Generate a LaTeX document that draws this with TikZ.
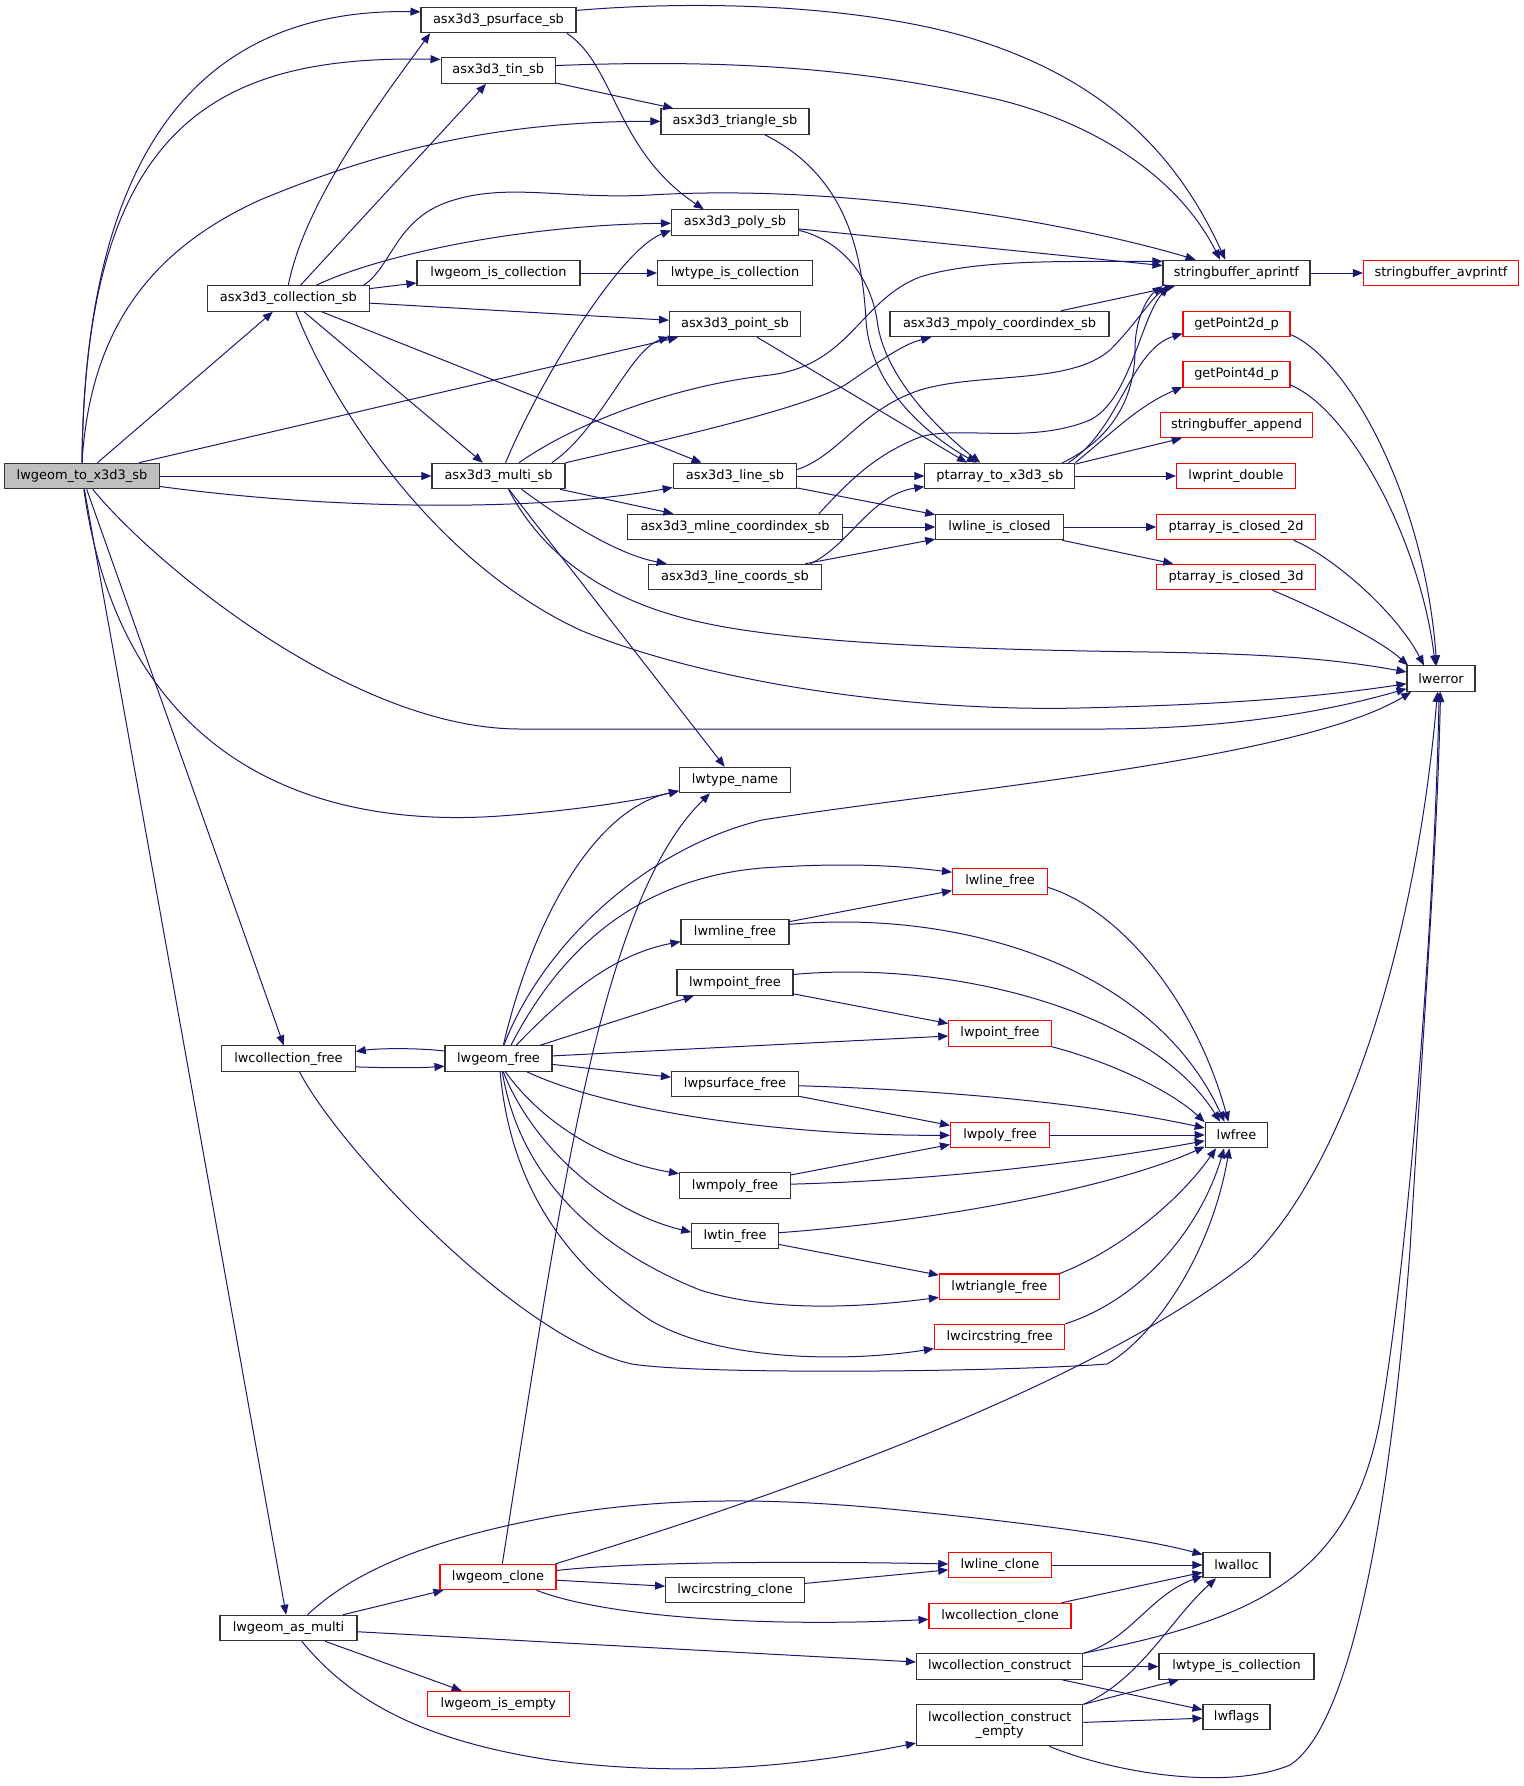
\documentclass[tikz,border=0pt]{standalone}
\usepackage{fontspec}
\setmainfont{DejaVu Sans}
\usetikzlibrary{arrows.meta}
\definecolor{edgec}{HTML}{191970}
\definecolor{boxc}{HTML}{333333}
\definecolor{redc}{HTML}{FF0000}
\definecolor{fillA}{HTML}{BFBFBF}
\begin{document}
\begin{tikzpicture}[x=0.75pt,y=-0.75pt,
 fn/.style={draw=boxc, line width=0.8pt, fill=white, inner sep=0pt, minimum height=25.5*0.75pt, font=\fontsize{9.7}{10.1}\selectfont, text=black},
 redfn/.style={fn, draw=redc},
 bw/.style={minimum width=#1*0.75pt},
 e/.style={draw=edgec, line width=0.75pt, -{Triangle[length=7.5pt,width=6pt]}}]
\useasboundingbox[fill=white] (0,0) rectangle (1524,1786);
% nodes
\node[fn,bw=155,fill=fillA] (A) at (82,476) {lwgeom\_to\_x3d3\_sb};
\node[fn,bw=155] (psurf) at (498.5,20) {asx3d3\_psurface\_sb};
\node[fn,bw=114.5] (tin) at (498.3,70.6) {asx3d3\_tin\_sb};
\node[fn,bw=148] (tri) at (735,121.5) {asx3d3\_triangle\_sb};
\node[fn,bw=127] (poly) at (735,222.5) {asx3d3\_poly\_sb};
\node[fn,bw=163] (isc) at (498.5,273) {lwgeom\_is\_collection};
\node[fn,bw=155] (tic1) at (735,273) {lwtype\_is\_collection};
\node[fn,bw=161.5] (C) at (288.3,298.5) {asx3d3\_collection\_sb};
\node[fn,bw=131] (pt) at (735,324) {asx3d3\_point\_sb};
\node[fn,bw=133] (M) at (498.5,476) {asx3d3\_multi\_sb};
\node[fn,bw=123.5] (L) at (735,476) {asx3d3\_line\_sb};
\node[fn,bw=214.7] (mlc) at (735,527) {asx3d3\_mline\_coordindex\_sb};
\node[fn,bw=172.5] (lc) at (735,577) {asx3d3\_line\_coords\_sb};
\node[fn,bw=147] (apf) at (1236.5,273) {stringbuffer\_aprintf};
\node[redfn,bw=155] (avp) at (1441,273) {stringbuffer\_avprintf};
\node[fn,bw=219] (mpc) at (999.5,324) {asx3d3\_mpoly\_coordindex\_sb};
\node[redfn,bw=107] (gp2) at (1236.5,324) {getPoint2d\_p};
\node[redfn,bw=107] (gp4) at (1236.5,374.5) {getPoint4d\_p};
\node[redfn,bw=152] (sba) at (1236.5,425) {stringbuffer\_append};
\node[fn,bw=150] (P) at (999.9,476) {ptarray\_to\_x3d3\_sb};
\node[redfn,bw=119] (lpd) at (1236,476) {lwprint\_double};
\node[fn,bw=127.5] (lic) at (999.5,527) {lwline\_is\_closed};
\node[redfn,bw=158.5] (pc2) at (1236,527) {ptarray\_is\_closed\_2d};
\node[redfn,bw=158.5] (pc3) at (1236,577) {ptarray\_is\_closed\_3d};
\node[fn,bw=68] (err) at (1441,678.7) {lwerror};
\node[fn,bw=111] (tn) at (735,780) {lwtype\_name};
\node[redfn,bw=95] (lf) at (1000,881.5) {lwline\_free};
\node[fn,bw=108] (mlf) at (735,932) {lwmline\_free};
\node[fn,bw=116] (mpf) at (735,982.7) {lwmpoint\_free};
\node[fn,bw=133.6] (cf) at (288.4,1058.6) {lwcollection\_free};
\node[fn,bw=107] (G) at (498.5,1058.6) {lwgeom\_free};
\node[redfn,bw=102.5] (pf) at (1000,1033.4) {lwpoint\_free};
\node[fn,bw=127] (psf) at (735,1084) {lwpsurface\_free};
\node[redfn,bw=99] (plf) at (1000,1135) {lwpoly\_free};
\node[fn,bw=62.5] (free) at (1236.5,1135) {lwfree};
\node[fn,bw=111] (mpl) at (735,1185.6) {lwmpoly\_free};
\node[fn,bw=86.5] (tinf) at (735,1236) {lwtin\_free};
\node[redfn,bw=120] (trf) at (999.4,1286.7) {lwtriangle\_free};
\node[redfn,bw=130.5] (csf) at (999.7,1337) {lwcircstring\_free};
\node[fn,bw=67] (alloc) at (1236.5,1565) {lwalloc};
\node[redfn,bw=116] (gc) at (498,1577) {lwgeom\_clone};
\node[redfn,bw=102.5] (lcl) at (1000,1565) {lwline\_clone};
\node[fn,bw=139] (csc) at (735,1590) {lwcircstring\_clone};
\node[redfn,bw=142] (ccl) at (1000,1616) {lwcollection\_clone};
\node[fn,bw=137] (am) at (288.5,1628) {lwgeom\_as\_multi};
\node[fn,bw=166.5] (cc) at (999.7,1666.5) {lwcollection\_construct};
\node[fn,bw=155] (tic2) at (1236.5,1666.5) {lwtype\_is\_collection};
\node[fn,bw=67] (flags) at (1236.5,1717) {lwflags};
\node[fn,bw=166.5,minimum height=41*0.75pt,align=center] (cce) at (999.7,1725.3) {lwcollection\_construct\\\_empty};
\node[redfn,bw=141.5] (empty) at (498.3,1704) {lwgeom\_is\_empty};
% edges from A
\draw[e] (A.north) .. controls (85,150) and (200,8) .. (psurf.174);
\draw[e] (A.north) .. controls (85,120) and (220,55) .. (tin.169.5);
\draw[e] (A.north) .. controls (90,330) and (150,250) .. (260,200) .. controls (380,150) and (500,121) .. (tri);
\draw[e] (A) -- (C);
\draw[e] (A) -- (pt);
\draw[e] (A) -- (M);
\draw[e] (A) .. controls (350,512) and (550,510) .. (L);
\draw[e] (A) .. controls (150,560) and (350,729) .. (520,729) -- (1100,729) .. controls (1250,729) and (1350,705) .. (err);
\draw[e] (A) .. controls (120,750) and (300,830) .. (500,816) .. controls (580,810) and (640,800) .. (tn.191);
\draw[e] (A) -- (cf);
\draw[e] (A) -- (am);
% C
\draw[e] (C.north) .. controls (305,200) and (385,95) .. (psurf.191);
\draw[e] (C) -- (tin);
\draw[e] (C) .. controls (380,255) and (520,225) .. (poly);
\draw[e] (C.10.3) .. controls (390,268) and (395,225) .. (440,205) .. controls (500,180) and (560,200) .. (650,195) .. controls (850,183) and (1080,225) .. (apf.162);
\draw[e] (C) -- (isc);
\draw[e] (C) -- (pt);
\draw[e] (C) -- (L);
\draw[e] (C) -- (M);
\draw[e] (C.-60) .. controls (330,400) and (430,560) .. (580,630) .. controls (700,680) and (900,712) .. (1080,708) .. controls (1250,704) and (1330,695) .. (err);
% psurface, tin, triangle, poly
\draw[e] (psurf.7) .. controls (700,0) and (850,5) .. (960,35) .. controls (1100,75) and (1175,150) .. (apf.130);
\draw[e] (psurf.-11.7) .. controls (615,65) and (615,150) .. (poly.157);
\draw[e] (tin.5.6) .. controls (750,58) and (880,72) .. (1000,100) .. controls (1100,125) and (1180,180) .. (apf.141);
\draw[e] (tin) -- (tri);
\draw[e] (tri.-24.8) .. controls (845,175) and (862,250) .. (866,320) .. controls (870,390) and (935,440) .. (P.150);
\draw[e] (poly) -- (apf);
\draw[e] (poly.-7.6) .. controls (840,240) and (870,275) .. (877,320) .. controls (884,380) and (945,435) .. (P.146);
\draw[e] (isc) -- (tic1);
\draw[e] (pt) -- (P.158.7);
% M
\draw[e] (M.62.5) .. controls (540,380) and (620,250) .. (poly.187);
\draw[e] (M.14.5) .. controls (600,430) and (630,350) .. (pt.191);
\draw[e] (M.33.3) .. controls (580,420) and (680,385) .. (770,375) .. controls (850,365) and (860,300) .. (920,277) .. controls (980,258) and (1080,262) .. (apf.171.5);
\draw[e] (M.north east) .. controls (660,441) and (800,410) .. (845,385) .. controls (875,365) and (900,345) .. (mpc.191.3);
\draw[e] (M) -- (mlc);
\draw[e] (M.-30.2) .. controls (570,525) and (620,555) .. (lc.169.4);
\draw[e] (M) -- (tn);
\draw[e] (M.-53) .. controls (540,550) and (600,600) .. (700,622) .. controls (800,645) and (1000,650) .. (1150,652) .. controls (1280,654) and (1340,660) .. (err.169);
% L, mline, line coords
\draw[e] (L.6.5) .. controls (840,455) and (860,410) .. (920,390) .. controls (980,372) and (1070,385) .. (1110,350) .. controls (1135,325) and (1150,300) .. (apf.191.5);
\draw[e] (L) -- (P);
\draw[e] (L) -- (lic);
\draw[e] (mlc.9.1) .. controls (850,480) and (875,455) .. (920,437) .. controls (960,425) and (1030,445) .. (1090,420) .. controls (1130,400) and (1140,320) .. (apf.191);
\draw[e] (mlc) -- (lic);
\draw[e] (lc.10.7) .. controls (850,545) and (870,495) .. (P.188);
\draw[e] (lc) -- (lic);
\draw[e] (mpc) -- (apf);
\draw[e] (apf) -- (avp);
% ptarray
\draw[e] (P.12) .. controls (1110,440) and (1135,400) .. (1135,350) .. controls (1135,315) and (1150,295) .. (apf.190.5);
\draw[e] (P.11.2) .. controls (1120,430) and (1130,350) .. (gp2.190.6);
\draw[e] (P.10.4) .. controls (1115,430) and (1140,405) .. (gp4.193.6);
\draw[e] (P.9.7) -- (sba);
\draw[e] (P) -- (lpd);
\draw[e] (lic) -- (pc2);
\draw[e] (lic) -- (pc3);
% to lwerror
\draw[e] (gp2.-11.6) .. controls (1350,360) and (1425,500) .. (err.108);
\draw[e] (gp4.-11.1) .. controls (1350,410) and (1420,540) .. (err.113);
\draw[e] (pc2.-13.3) .. controls (1330,555) and (1395,610) .. (err.142);
\draw[e] (pc3.-20.2) .. controls (1320,610) and (1380,640) .. (err.158);
% lwgeom_free
\draw[e] (G.172) .. controls (420,1048) and (380,1048) .. (cf.6.8);
\draw[e] (cf.-7.7) .. controls (390,1068) and (420,1068) .. (G.188.5);
\draw[e] (G.70) .. controls (530,930) and (590,810) .. (tn.191);
\draw[e] (G.68) .. controls (540,950) and (640,850) .. (762,820) .. controls (950,790) and (1300,760) .. (err.204);
\draw[e] (G.47) .. controls (550,970) and (620,880) .. (762,868) .. controls (850,862) and (900,866) .. (lf.169.2);
\draw[e] (G.37) .. controls (560,1000) and (610,955) .. (mlf.190.5);
\draw[e] (G) -- (mpf);
\draw[e] (G) -- (pf);
\draw[e] (G) -- (psf);
\draw[e] (G.-25.3) .. controls (620,1115) and (800,1136) .. (plf);
\draw[e] (G.-62.5) .. controls (540,1120) and (600,1160) .. (mpl.168);
\draw[e] (G.-70) .. controls (530,1140) and (600,1210) .. (tinf.175);
\draw[e] (G.-74) .. controls (520,1180) and (600,1250) .. (700,1290) .. controls (780,1315) and (880,1305) .. (trf.190);
\draw[e] (G.-83) .. controls (510,1180) and (560,1260) .. (650,1320) .. controls (720,1362) and (850,1362) .. (csf.190);
% free family
\draw[e] (mlf) -- (lf);
\draw[e] (mlf.8) .. controls (950,910) and (1150,960) .. (free.132.6);
\draw[e] (lf.-7.2) .. controls (1120,910) and (1195,1000) .. (free.121);
\draw[e] (mpf) -- (pf);
\draw[e] (mpf.8.5) .. controls (950,960) and (1150,1010) .. (free.141);
\draw[e] (pf.south east) .. controls (1110,1062) and (1170,1090) .. (free.158);
\draw[e] (psf) -- (plf);
\draw[e] (psf) .. controls (950,1090) and (1100,1105) .. (free);
\draw[e] (plf) -- (free);
\draw[e] (mpl) -- (plf);
\draw[e] (mpl) .. controls (950,1180) and (1100,1160) .. (free);
\draw[e] (tinf) -- (trf);
\draw[e] (tinf) .. controls (950,1220) and (1120,1185) .. (free.200);
\draw[e] (trf.north east) .. controls (1120,1250) and (1180,1200) .. (free.213);
\draw[e] (csf.north east) .. controls (1140,1300) and (1200,1230) .. (free.227);
\draw[e] (cf.-50) .. controls (340,1150) and (520,1340) .. (632,1364) .. controls (700,1375) and (1000,1372) .. (1107,1364) .. controls (1150,1340) and (1210,1260) .. (free.242);
% clone family
\draw[e] (gc.72) .. controls (560,1200) and (600,900) .. (tn.208.5);
\draw[e] (gc.13.8) .. controls (800,1490) and (1100,1380) .. (1250,1260) .. controls (1360,1150) and (1420,900) .. (err.255);
\draw[e] (gc) .. controls (650,1560) and (850,1562) .. (lcl);
\draw[e] (gc) -- (csc);
\draw[e] (gc.-19.2) .. controls (600,1615) and (750,1628) .. (ccl);
\draw[e] (csc) -- (lcl);
\draw[e] (lcl) -- (alloc);
\draw[e] (ccl) -- (alloc);
% as_multi
\draw[e] (am) -- (gc);
\draw[e] (am.35.5) .. controls (350,1575) and (420,1540) .. (560,1515) .. controls (650,1500) and (750,1495) .. (900,1510) .. controls (1050,1525) and (1150,1540) .. (alloc.163);
\draw[e] (am) -- (cc);
\draw[e] (am) -- (empty);
\draw[e] (am.-45) .. controls (350,1700) and (420,1740) .. (550,1760) .. controls (700,1780) and (820,1762) .. (cce.192.7);
% construct
\draw[e] (cc.north east) .. controls (1130,1640) and (1150,1595) .. (alloc.198);
\draw[e] (cc) -- (tic2);
\draw[e] (cc) -- (flags);
\draw[e] (cc.north east) .. controls (1250,1620) and (1350,1580) .. (1380,1420) .. controls (1410,1250) and (1435,900) .. (err.262);
\draw[e] (cce.north east) .. controls (1140,1680) and (1170,1620) .. (alloc.213);
\draw[e] (cce.north east) -- (tic2.193.6);
\draw[e] (cce) -- (flags);
\draw[e] (cce.-23.7) .. controls (1120,1775) and (1230,1790) .. (1290,1765) .. controls (1360,1720) and (1395,1450) .. (1410,1250) .. controls (1425,1000) and (1437,850) .. (err.268);
\end{tikzpicture}
\end{document}
